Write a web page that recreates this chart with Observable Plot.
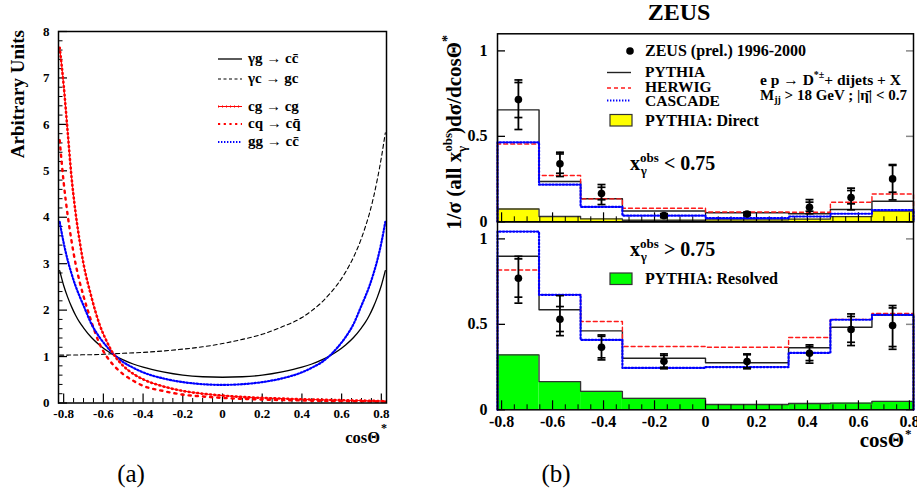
<!DOCTYPE html>
<html><head><meta charset="utf-8">
<script src="https://cdn.jsdelivr.net/npm/d3@7"></script>
<script src="https://cdn.jsdelivr.net/npm/@observablehq/plot@0.6"></script>
<style>
body{margin:0;background:#fff}
#wrap{position:relative;width:917px;height:494px;background:#fff;overflow:hidden}
#wrap svg{position:absolute;left:0;top:0}
</style></head><body><div id="wrap"></div>
<script>
// ---------- Panel (a): angular distributions ----------
const cosGrid = [-0.82,-0.8,-0.78,-0.76,-0.74,-0.72,-0.7,-0.66,-0.62,-0.58,-0.55,-0.5,-0.45,-0.4,-0.3,-0.2,-0.1,0,0.1,0.2,0.3,0.4,0.45,0.5,0.55,0.58,0.62,0.66,0.7,0.72,0.74,0.76,0.78,0.8,0.82];
const gamGluCC = [2.85,2.53,2.28,2.07,1.89,1.74,1.62,1.41,1.25,1.12,1.04,0.93,0.84,0.77,0.67,0.60,0.565,0.555,0.565,0.60,0.67,0.77,0.84,0.93,1.04,1.12,1.25,1.41,1.62,1.74,1.89,2.07,2.28,2.53,2.85];
const gamCGC = [1.03,1.03,1.03,1.035,1.035,1.035,1.04,1.04,1.045,1.055,1.06,1.07,1.08,1.09,1.12,1.16,1.21,1.28,1.37,1.48,1.64,1.84,1.99,2.17,2.40,2.56,2.82,3.14,3.55,3.80,4.08,4.42,4.82,5.28,5.82];
const cgCG = [7.65,6.85,5.85,4.85,4.1,3.5,3.0,2.28,1.7,1.3,1.06,0.8,0.63,0.51,0.36,0.26,0.2,0.16,0.13,0.11,0.095,0.08,0.075,0.07,0.065,0.062,0.058,0.055,0.052,0.05,0.048,0.046,0.044,0.042,0.04];
const cqCQ = [5.66,4.75,4.05,3.48,3.0,2.62,2.3,1.75,1.28,0.98,0.82,0.62,0.48,0.37,0.26,0.18,0.14,0.11,0.09,0.075,0.063,0.055,0.05,0.047,0.044,0.042,0.04,0.038,0.036,0.035,0.034,0.033,0.032,0.031,0.03];
const ggCC = [3.9,3.45,3.08,2.78,2.52,2.3,2.1,1.7,1.42,1.2,1.06,0.88,0.76,0.66,0.53,0.45,0.405,0.39,0.405,0.45,0.53,0.66,0.76,0.88,1.06,1.2,1.42,1.7,2.1,2.3,2.52,2.78,3.08,3.45,3.9];
const processNames = ["γg → cc̄","γc → gc","cg → cg","cq → cq̄","gg → cc̄"];
const leftXTicks = [-0.8,-0.6,-0.4,-0.2,0,0.2,0.4,0.6,0.8];
const leftXLabels = ["-0.8","-0.6","-0.4","-0.2","0","0.2","0.4","0.6","0.8"];
const leftYTicks = [0,1,2,3,4,5,6,7,8];
const leftYLabels = ["0","1","2","3","4","5","6","7","8"];

// ---------- Panel (b): ZEUS cos theta* ----------
const binEdges = [-0.816,-0.653,-0.49,-0.326,0,0.326,0.49,0.653,0.816];
const binCenters = [-0.734,-0.571,-0.408,-0.163,0.163,0.408,0.571,0.734];
// x_gamma^obs < 0.75
const pythiaLow  = [0.655,0.236,0.135,0.063,0.053,0.047,0.072,0.12];
const herwigLow  = [0.455,0.271,0.134,0.079,0.057,0.056,0.114,0.163];
const cascadeLow = [0.465,0.217,0.087,0.036,0.021,0.031,0.047,0.069];
const directLow  = [0.075,0.031,0.017,0.009,0.011,0.016,0.03,0.062];
const dataLow    = [0.715,0.339,0.166,0.036,0.046,0.085,0.142,0.251];
const statUpLow  = [0.815,0.397,0.202,0.045,0.053,0.115,0.183,0.33];
const statDnLow  = [0.61,0.284,0.129,0.028,0.04,0.062,0.105,0.173];
const totUpLow   = [0.83,0.407,0.218,0.048,0.056,0.13,0.197,0.335];
const totDnLow   = [0.54,0.265,0.101,0.024,0.037,0.047,0.07,0.128];
// x_gamma^obs > 0.75
const pythiaHigh  = [0.898,0.585,0.462,0.302,0.275,0.363,0.483,0.555];
const herwigHigh  = [0.818,0.674,0.517,0.37,0.366,0.423,0.529,0.564];
const cascadeHigh = [1.043,0.673,0.409,0.245,0.25,0.333,0.527,0.556];
const resolvedHigh= [0.321,0.165,0.108,0.067,0.031,0.037,0.039,0.049];
const dataHigh    = [0.77,0.53,0.366,0.284,0.282,0.331,0.47,0.493];
const statUpHigh  = [0.883,0.604,0.43,0.318,0.322,0.37,0.546,0.596];
const statDnHigh  = [0.659,0.458,0.304,0.249,0.246,0.288,0.395,0.37];
const totUpHigh   = [0.898,0.668,0.438,0.327,0.327,0.38,0.561,0.61];
const totDnHigh   = [0.624,0.434,0.292,0.24,0.24,0.273,0.376,0.354];
const rightXTicks = [-0.8,-0.6,-0.4,-0.2,0,0.2,0.4,0.6,0.8];
const rightXLabels = ["-0.8","-0.6","-0.4","-0.2","0","0.2","0.4","0.6","0.8"];
const rightYTicks = [0,0.5,1];
const rightYLabels = ["0","0.5","1"];

// ---------- helpers ----------
const W = 917, H = 494;
const FONT = "'Liberation Serif','Times New Roman',serif";
const wrap = document.getElementById("wrap");
const baseStyle = {background:"transparent", fontFamily:FONT, fontWeight:"bold", fontSize:"13px", overflow:"visible"};
const curve = vals => cosGrid.map((c,i)=>({c, v:vals[i]}));
function stepPts(vals){
  const p=[{x:binEdges[0],y:0}];
  vals.forEach((v,i)=>{p.push({x:binEdges[i],y:v},{x:binEdges[i+1],y:v});});
  p.push({x:binEdges[binEdges.length-1],y:0});
  return p;
}
const rects = vals => vals.map((v,i)=>({x1:binEdges[i],x2:binEdges[i+1],y1:0,y2:v}));
const pts = (v,su,sd,tu,td) => v.map((d,i)=>({x:binCenters[i],v:d,su:su[i],sd:sd[i],tu:tu[i],td:td[i]}));
const capSymbol = {draw(ctx,size){const w=Math.sqrt(size/Math.PI);ctx.moveTo(-w,0);ctx.lineTo(w,0);}};
const minorRange = (a,b,s,majors) => d3.range(Math.round((b-a)/s)+1).map(i=>+(a+i*s).toFixed(3)).filter(v=>!majors.some(m=>Math.abs(m-v)<1e-6));

// ---------- Panel (a) ----------
const LA = {l:58, r:386, t:31, b:402.5};
const fwA = LA.r-LA.l, fhA = LA.b-LA.t;
const plotA = Plot.plot({
  width:W, height:H, marginLeft:LA.l, marginRight:W-LA.r, marginTop:LA.t, marginBottom:H-LA.b,
  x:{domain:[-0.826,0.826]}, y:{domain:[0,8]},
  style:baseStyle,
  marks:[
    Plot.tickX(minorRange(-0.8,0.8,0.05,leftXTicks),{x:d=>d, insetTop:fhA-4.5, stroke:"black", strokeWidth:1}),
    Plot.tickX(leftXTicks,{x:d=>d, insetTop:fhA-9, stroke:"black", strokeWidth:1.2}),
    Plot.tickY(minorRange(0,8,0.2,leftYTicks),{y:d=>d, insetRight:fwA-4.5, stroke:"black", strokeWidth:1}),
    Plot.tickY(leftYTicks,{y:d=>d, insetRight:fwA-9, stroke:"black", strokeWidth:1.2}),
    Plot.axisX(leftXTicks,{anchor:"bottom", tickSize:0, tickPadding:6, label:null, fontSize:13, fontWeight:"bold", fontFamily:FONT, tickFormat:d=>leftXLabels[leftXTicks.indexOf(d)]}),
    Plot.axisY(leftYTicks,{anchor:"left", tickSize:0, tickPadding:9, label:null, fontSize:13, fontWeight:"bold", fontFamily:FONT, tickFormat:d=>leftYLabels[leftYTicks.indexOf(d)]}),
    Plot.line(curve(gamCGC),{x:"c", y:"v", stroke:"black", strokeWidth:1.1, strokeDasharray:"4,3", curve:"monotone-x"}),
    Plot.line(curve(gamGluCC),{x:"c", y:"v", stroke:"black", strokeWidth:1.3, curve:"monotone-x"}),
    Plot.line(curve(cqCQ),{x:"c", y:"v", stroke:"#ff0000", strokeWidth:2.4, strokeDasharray:"2.2,5", curve:"monotone-x"}),
    Plot.line(curve(ggCC),{x:"c", y:"v", stroke:"#0000ff", strokeWidth:2.2, strokeDasharray:"1.4,2", curve:"monotone-x"}),
    Plot.line(curve(cgCG),{x:"c", y:"v", stroke:"#ff0000", strokeWidth:1, curve:"monotone-x"}),
    Plot.line(curve(cgCG),{x:"c", y:"v", stroke:"#ff0000", strokeWidth:2.6, strokeDasharray:"0.7,3.6", curve:"monotone-x"}),
    Plot.frame({stroke:"black", strokeWidth:1.5})
  ]
});
wrap.appendChild(plotA);

// ---------- Panel (b) ----------
const RB = {l:497, r:913};
function histPanel(top, bottom, pyth, herw, casc, fillVals, fillColor, data, showX){
  const fw = RB.r-RB.l, fh = bottom-top;
  const marks = [
    Plot.rect(rects(fillVals),{x1:"x1", x2:"x2", y1:"y1", y2:"y2", fill:fillColor}),
    Plot.line(stepPts(fillVals),{x:"x", y:"y", stroke:"#333", strokeWidth:1.3}),
    Plot.tickX(minorRange(-0.8,0.8,0.05,rightXTicks),{x:d=>d, insetTop:fh-5, stroke:"black", strokeWidth:1}),
    Plot.tickX(rightXTicks,{x:d=>d, insetTop:fh-9, stroke:"black", strokeWidth:1.2}),
    Plot.tickY(rightYTicks,{y:d=>d, insetRight:fw-8, stroke:"black", strokeWidth:1.3}),
    Plot.tickY(rightYTicks,{y:d=>d, insetLeft:fw-7, stroke:"#888", strokeWidth:1.5}),
    Plot.line(stepPts(pyth),{x:"x", y:"y", stroke:"#222", strokeWidth:1.4}),
    Plot.line(stepPts(herw),{x:"x", y:"y", stroke:"#ff1a1a", strokeWidth:1.4, strokeDasharray:"4,3"}),
    Plot.line(stepPts(casc),{x:"x", y:"y", stroke:"#0000ff", strokeWidth:2.2, strokeDasharray:"1.4,2"}),
    Plot.ruleX(data,{x:"x", y1:"td", y2:"tu", stroke:"black", strokeWidth:1.8}),
    ...["su","sd","tu","td"].map(k=>Plot.dot(data,{x:"x", y:k, symbol:capSymbol, r:4, stroke:"black", strokeWidth:1.7, fill:"none"})),
    Plot.dot(data,{x:"x", y:"v", r:3.8, fill:"black"}),
    Plot.axisY(rightYTicks,{anchor:"left", tickSize:0, tickPadding:10, label:null, fontSize:16, fontWeight:"bold", fontFamily:FONT, tickFormat:d=>rightYLabels[rightYTicks.indexOf(d)]}),
    Plot.frame({stroke:"black", strokeWidth:1.5})
  ];
  if (showX) marks.push(Plot.axisX(rightXTicks,{anchor:"bottom", tickSize:0, tickPadding:5.5, label:null, fontSize:16, fontWeight:"bold", fontFamily:FONT, tickFormat:d=>rightXLabels[rightXTicks.indexOf(d)]}));
  return Plot.plot({
    width:W, height:H, marginLeft:RB.l, marginRight:W-RB.r, marginTop:top, marginBottom:H-bottom,
    x:{domain:[-0.816,0.816], axis: showX ? undefined : null}, y:{domain:[0,1.1]},
    style:baseStyle, marks
  });
}
wrap.appendChild(histPanel(33.3, 221.3, pythiaLow, herwigLow, cascadeLow, directLow, "#ffff00",
  pts(dataLow,statUpLow,statDnLow,totUpLow,totDnLow), false));
wrap.appendChild(histPanel(221.3, 409.3, pythiaHigh, herwigHigh, cascadeHigh, resolvedHigh, "#00ff00",
  pts(dataHigh,statUpHigh,statDnHigh,totUpHigh,totDnHigh), true));

// ---------- annotations / legends ----------
const svg = d3.create("svg").attr("width",W).attr("height",H)
  .attr("font-family",FONT).attr("font-weight","bold");
function text(x,y,parts,opt={}){
  const t = svg.append("text").attr("x",x).attr("y",y).attr("font-size",opt.size||15)
    .attr("text-anchor",opt.anchor||"start");
  if (opt.transform) t.attr("transform",opt.transform).attr("x",0).attr("y",0);
  if (opt.weight) t.attr("font-weight",opt.weight);
  (typeof parts==="string"?[parts]:parts).forEach(p=>{
    if (typeof p==="string") t.append("tspan").text(p);
    else { const s=t.append("tspan").text(p.t); if(p.size) s.attr("font-size",p.size); if(p.dx) s.attr("dx",p.dx); if(p.dy) s.attr("dy",p.dy); }
  });
  return t;
}
// panel a texts
text(0,0,"Arbitrary Units",{size:19, anchor:"end", transform:"translate(24,30) rotate(-90)"});
text(380,443,"cosΘ",{size:16.5, anchor:"end"});
text(381,432,"*",{size:12});
const legA = [
  {y:59, stroke:"black", w:1.3, dash:null},
  {y:79, stroke:"black", w:1.1, dash:"3,2.5"},
  {y:106.5, stroke:"#ff0000", w:1, dash:null, ticks:true},
  {y:124, stroke:"#ff0000", w:2.2, dash:"2.2,3.5"},
  {y:142, stroke:"#0000ff", w:2.2, dash:"1.4,1.6"}
];
legA.forEach((d,i)=>{
  const l = svg.append("line").attr("x1",218).attr("x2",242).attr("y1",d.y).attr("y2",d.y)
    .attr("stroke",d.stroke).attr("stroke-width",d.w);
  if (d.dash) l.attr("stroke-dasharray",d.dash);
  if (d.ticks) svg.append("line").attr("x1",218).attr("x2",242).attr("y1",d.y).attr("y2",d.y)
    .attr("stroke",d.stroke).attr("stroke-width",2.6).attr("stroke-dasharray","0.7,3.3");
  text(248,d.y+4,processNames[i],{size:15});
});
text(131,482,"(a)",{size:25, anchor:"middle", weight:"normal"});
text(556,482,"(b)",{size:25, anchor:"middle", weight:"normal"});

// panel b texts
text(679,20,"ZEUS",{size:24, anchor:"middle"});
text(0,0,["1/σ (all x",{t:"obs",size:13,dy:-9},{t:"γ",size:13,dx:-19,dy:14},{t:")dσ/dcosΘ",dx:12,dy:-5},{t:"*",size:14,dy:-9}],
  {size:21, anchor:"end", transform:"translate(461,35) rotate(-90)"});
text(904,447,"cosΘ",{size:21, anchor:"end"});
text(905,438,"*",{size:13});
// legend
svg.append("circle").attr("cx",630).attr("cy",51).attr("r",3.8).attr("fill","black");
text(645,56,"ZEUS (prel.) 1996-2000",{size:16});
svg.append("line").attr("x1",607).attr("x2",631).attr("y1",72.5).attr("y2",72.5).attr("stroke","#222").attr("stroke-width",1.4);
text(645,77,"PYTHIA",{size:15.5});
svg.append("line").attr("x1",607).attr("x2",631).attr("y1",88).attr("y2",88).attr("stroke","#ff1a1a").attr("stroke-width",1.4).attr("stroke-dasharray","4,3");
text(645,91.5,"HERWIG",{size:15.5});
svg.append("line").attr("x1",607).attr("x2",631).attr("y1",100.5).attr("y2",100.5).attr("stroke","#0000ff").attr("stroke-width",2.2).attr("stroke-dasharray","1.4,1.6");
text(645,106,"CASCADE",{size:15.5});
svg.append("rect").attr("x",610).attr("y",114.5).attr("width",22).attr("height",11.5).attr("fill","#ffff00").attr("stroke","#333").attr("stroke-width",1.2);
text(645,125.5,"PYTHIA: Direct",{size:16});
text(760,85,["e p → D",{t:"*±",size:10,dy:-7},{t:"+ dijets + X",dy:7}],{size:15.5});
text(760,99.5,["M",{t:"jj",size:10,dy:3.5},{t:" > 18 GeV ; |η̄| < 0.7",dy:-3.5}],{size:15});
text(630,170,["x",{t:"obs",size:13,dy:-8},{t:"γ",size:13,dx:-18,dy:13},{t:"  < 0.75",dx:12,dy:-5}],{size:20});
text(630,256,["x",{t:"obs",size:13,dy:-8},{t:"γ",size:13,dx:-18,dy:13},{t:"  > 0.75",dx:12,dy:-5}],{size:20});
svg.append("rect").attr("x",610).attr("y",273).attr("width",22).attr("height",11.5).attr("fill","#00ff00").attr("stroke","#333").attr("stroke-width",1.2);
text(645,284,"PYTHIA: Resolved",{size:16});
wrap.appendChild(svg.node());
</script></body></html>
